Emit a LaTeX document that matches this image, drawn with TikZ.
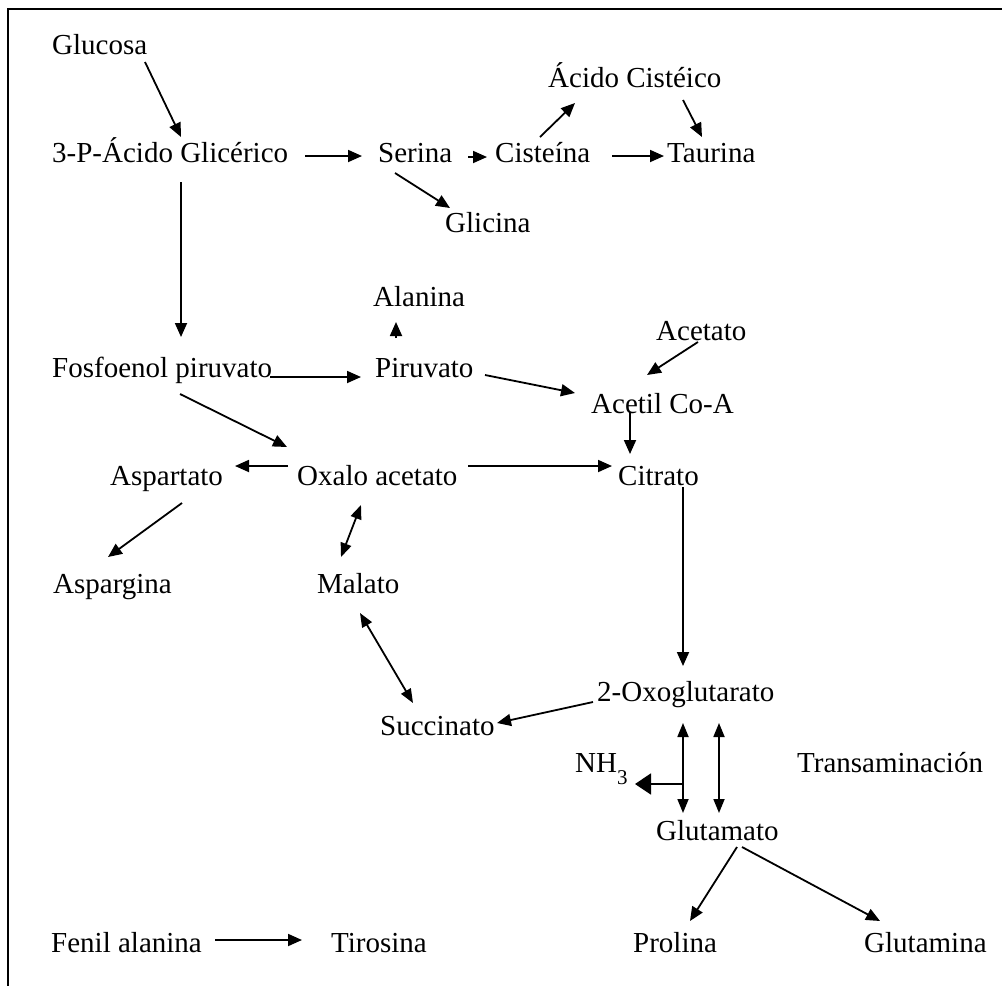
\documentclass[tikz,border=0pt]{standalone}
\usepackage{fontspec}
\setmainfont{Liberation Serif}
\usetikzlibrary{arrows.meta}
\begin{document}
\begin{tikzpicture}[x=1pt,y=-1pt,
  lbl/.style={inner sep=0pt, anchor=base west, font=\fontsize{29}{34}\selectfont},
  arr/.style={-{Triangle[length=14pt,width=12pt]}, line width=1.8pt},
  darr/.style={{Triangle[length=14pt,width=11pt]}-{Triangle[length=14pt,width=11pt]}, line width=1.8pt},
  bigarr/.style={-{Triangle[length=16pt,width=21pt]}, line width=1.8pt},
  frame/.style={line width=2pt}]
\useasboundingbox (0,0) rectangle (1002,986);
% frame
\coordinate (ftop) at (1002,9);
\coordinate (fcorner) at (8,9);
\coordinate (fbot) at (8,986);
\draw[frame] (ftop) -- (fcorner) -- (fbot);
% texts
\node[lbl] (glucosa) at (52,54) {Glucosa};
\node[lbl] (pga) at (52,162) {3-P-Ácido Glicérico};
\node[lbl] (serina) at (378,162) {Serina};
\node[lbl] (cisteina) at (495,162) {Cisteína};
\node[lbl] (taurina) at (667,162) {Taurina};
\node[lbl] (cisteico) at (548,87) {Ácido Cistéico};
\node[lbl] (glicina) at (445,232) {Glicina};
\node[lbl] (alanina) at (373,306) {Alanina};
\node[lbl] (acetato) at (656,340) {Acetato};
\node[lbl] (fosfo) at (52,377) {Fosfoenol piruvato};
\node[lbl] (piruvato) at (375,377) {Piruvato};
\node[lbl] (acetil) at (591,413) {Acetil Co-A};
\node[lbl] (aspartato) at (110,485) {Aspartato};
\node[lbl] (oxalo) at (297,485) {Oxalo acetato};
\node[lbl] (citrato) at (618,485) {Citrato};
\node[lbl] (aspargina) at (53,593) {Aspargina};
\node[lbl] (malato) at (317,593) {Malato};
\node[lbl] (oxo) at (597,701) {2-Oxoglutarato};
\node[lbl] (succinato) at (380,735) {Succinato};
\node[lbl] (nh3) at (575,772) {NH\raisebox{-12pt}{\fontsize{21}{24}\selectfont 3}};
\node[lbl] (trans) at (797,772) {Transaminación};
\node[lbl] (glutamato) at (656,840) {Glutamato};
\node[lbl] (fenil) at (51,952) {Fenil alanina};
\node[lbl] (tirosina) at (331,952) {Tirosina};
\node[lbl] (prolina) at (633,952) {Prolina};
\node[lbl] (glutamina) at (864,952) {Glutamina};
% connectors
\draw[arr] ([shift={(93,8)}]glucosa.base west) -- ([shift={(129,-25)}]pga.base west);
\draw[arr] ([shift={(253,-6)}]pga.base west) -- ([shift={(-16,-6)}]serina.base west);
\draw[arr] ([shift={(90,-5)}]serina.base west) -- ([shift={(-8,-5)}]cisteina.base west);
\draw[arr] ([shift={(117,-6)}]cisteina.base west) -- ([shift={(-3,-6)}]taurina.base west);
\draw[arr] ([shift={(45,-25)}]cisteina.base west) -- ([shift={(27,16)}]cisteico.base west);
\draw[arr] ([shift={(135,13)}]cisteico.base west) -- ([shift={(35,-25)}]taurina.base west);
\draw[arr] ([shift={(17,11)}]serina.base west) -- ([shift={(5,-24)}]glicina.base west);
\draw[arr] ([shift={(129,20)}]pga.base west) -- ([shift={(129,-40)}]fosfo.base west);
\draw[arr] ([shift={(218,0)}]fosfo.base west) -- ([shift={(-14,0)}]piruvato.base west);
\draw[arr] ([shift={(21,-39)}]piruvato.base west) -- ([shift={(23,16)}]alanina.base west);
\draw[arr] ([shift={(110,-2)}]piruvato.base west) -- ([shift={(-16,-20)}]acetil.base west);
\draw[arr] ([shift={(42,2)}]acetato.base west) -- ([shift={(56,-38)}]acetil.base west);
\draw[arr] ([shift={(39,-1)}]acetil.base west) -- ([shift={(12,-31)}]citrato.base west);
\draw[arr] ([shift={(128,17)}]fosfo.base west) -- ([shift={(-10,-38)}]oxalo.base west);
\draw[arr] ([shift={(-9,-19)}]oxalo.base west) -- ([shift={(125,-19)}]aspartato.base west);
\draw[arr] ([shift={(171,-19)}]oxalo.base west) -- ([shift={(-6,-19)}]citrato.base west);
\draw[arr] ([shift={(72,18)}]aspartato.base west) -- ([shift={(55,-36)}]aspargina.base west);
\draw[darr] ([shift={(64,20)}]oxalo.base west) -- ([shift={(24,-36)}]malato.base west);
\draw[darr] ([shift={(43,20)}]malato.base west) -- ([shift={(33,-32)}]succinato.base west);
\draw[arr] ([shift={(65,2)}]citrato.base west) -- ([shift={(86,-35)}]oxo.base west);
\draw[arr] ([shift={(-4,1)}]oxo.base west) -- ([shift={(117,-12)}]succinato.base west);
\draw[darr] ([shift={(86,22)}]oxo.base west) -- ([shift={(27,-27)}]glutamato.base west);
\draw[darr] ([shift={(122,22)}]oxo.base west) -- ([shift={(63,-27)}]glutamato.base west);
\coordinate (nhj) at (683,784);
\draw[bigarr] (nhj) -- ([shift={(60,12)}]nh3.base west);
\draw[arr] ([shift={(81,7)}]glutamato.base west) -- ([shift={(57,-31)}]prolina.base west);
\draw[arr] ([shift={(86,7)}]glutamato.base west) -- ([shift={(16,-31)}]glutamina.base west);
\draw[arr] ([shift={(164,-12)}]fenil.base west) -- ([shift={(-29,-12)}]tirosina.base west);
\end{tikzpicture}
\end{document}
